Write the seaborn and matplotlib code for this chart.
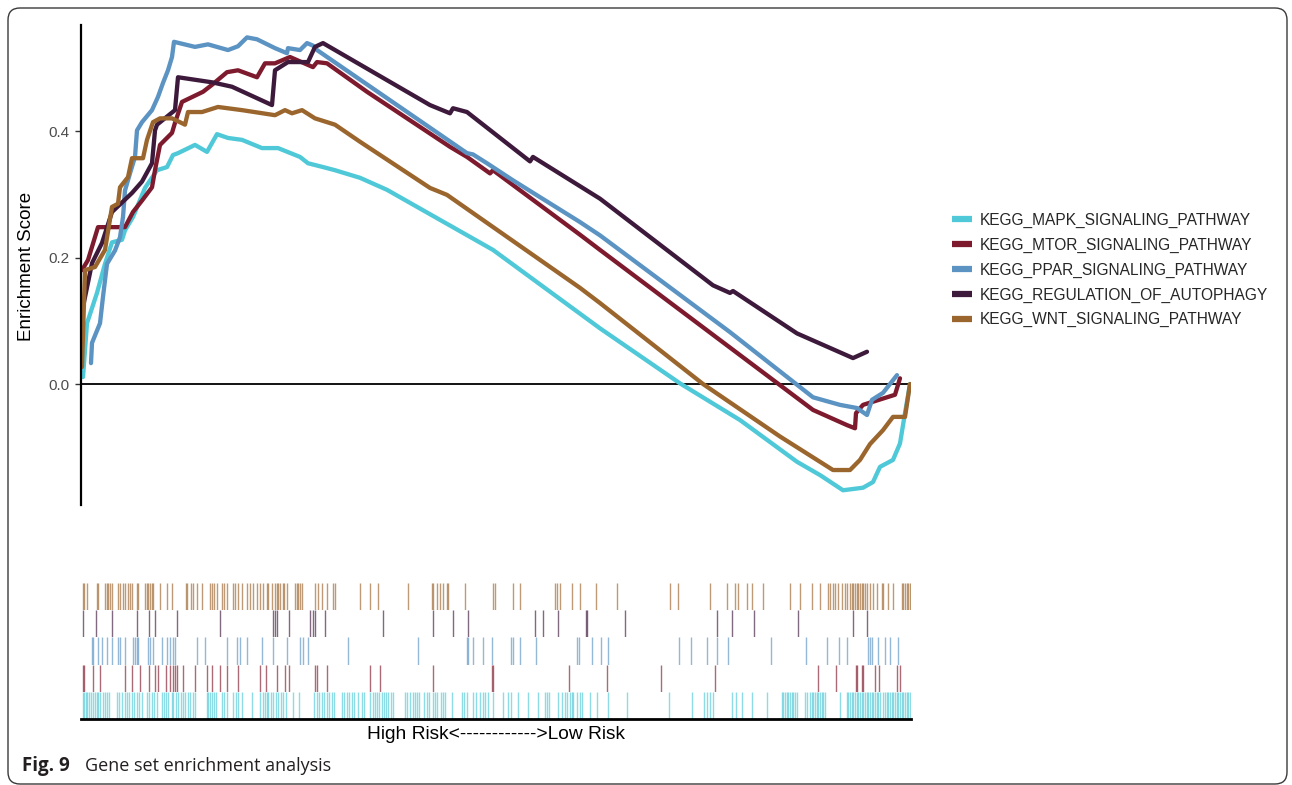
import numpy as np
import pandas as pd
import matplotlib
matplotlib.use("Agg")
import matplotlib.pyplot as plt
from matplotlib.patches import FancyBboxPatch
from matplotlib.lines import Line2D
import seaborn as sns

# ---------------- data ----------------
pathways = ["KEGG_MAPK_SIGNALING_PATHWAY", "KEGG_MTOR_SIGNALING_PATHWAY",
            "KEGG_PPAR_SIGNALING_PATHWAY", "KEGG_REGULATION_OF_AUTOPHAGY",
            "KEGG_WNT_SIGNALING_PATHWAY"]
colors = ["#4FC9D8", "#7E1A2D", "#5B93C3", "#3D1A3C", "#9B662D"]

mapk_rank = [2, 6, 16, 24, 31, 41, 44, 52, 64, 76, 86, 92, 97, 114, 126, 136, 147, 161, 181, 197,
             219, 227, 242, 254, 279, 306, 412, 519, 599, 659, 716, 739, 762, 782, 792, 799, 812, 819, 824, 829]
mapk_es = [0.011, 0.096, 0.144, 0.19, 0.224, 0.228, 0.243, 0.264, 0.31, 0.338,
           0.343, 0.362, 0.365, 0.378, 0.367, 0.395, 0.389, 0.386, 0.373, 0.373,
           0.359, 0.349, 0.343, 0.338, 0.326, 0.307, 0.212, 0.088, 0.001, -0.057,
           -0.123, -0.144, -0.168, -0.164, -0.155, -0.131, -0.120, -0.094, -0.046, 0.0]

mtor_rank = [1, 7, 17, 44, 52, 61, 71, 74, 79, 91, 94, 101, 122, 131, 146, 157, 176, 184, 194, 209,
             232, 236, 246, 286, 369, 386, 409, 412, 499, 519, 732, 766, 774, 775, 782, 792, 814, 819]
mtor_es = [0.18, 0.196, 0.248, 0.248, 0.272, 0.29, 0.311, 0.338, 0.378, 0.397,
           0.413, 0.446, 0.462, 0.473, 0.493, 0.496, 0.485, 0.507, 0.507, 0.517,
           0.501, 0.509, 0.507, 0.462, 0.375, 0.359, 0.333, 0.338, 0.236, 0.212,
           -0.041, -0.065, -0.070, -0.046, -0.033, -0.028, -0.017, 0.009]

ppar_rank = [10, 11, 19, 22, 26, 34, 39, 42, 44, 49, 54, 56, 61, 71, 77, 82, 87, 91, 93, 114,
             127, 147, 157, 166, 176, 194, 206, 207, 219, 226, 232, 236, 386, 392, 406, 432, 499, 519,
             649, 732, 759, 776, 786, 791, 802, 816]
ppar_es = [0.033, 0.065, 0.096, 0.138, 0.19, 0.211, 0.232, 0.264, 0.306, 0.333,
           0.359, 0.401, 0.414, 0.433, 0.454, 0.476, 0.496, 0.517, 0.541, 0.533,
           0.537, 0.528, 0.534, 0.548, 0.545, 0.531, 0.523, 0.531, 0.528, 0.539,
           0.535, 0.528, 0.365, 0.363, 0.349, 0.322, 0.256, 0.235, 0.082, -0.021,
           -0.033, -0.038, -0.049, -0.025, -0.014, 0.014]

auto_rank = [2, 11, 21, 31, 51, 61, 71, 74, 76, 94, 97, 131, 151, 191, 194, 207, 227, 234, 242, 349,
             369, 372, 386, 449, 452, 519, 632, 649, 652, 716, 772, 786]
auto_es = [0.122, 0.191, 0.223, 0.272, 0.302, 0.32, 0.349, 0.401, 0.41, 0.433,
           0.485, 0.477, 0.47, 0.441, 0.496, 0.509, 0.509, 0.533, 0.539, 0.441,
           0.428, 0.436, 0.43, 0.352, 0.359, 0.293, 0.156, 0.144, 0.147, 0.08,
           0.041, 0.051]

wnt_rank = [1, 4, 14, 24, 31, 37, 39, 47, 51, 62, 66, 72, 79, 91, 104, 107, 121, 137, 161, 194,
            204, 211, 221, 234, 254, 279, 349, 366, 499, 519, 622, 699, 752, 769, 779, 789, 802, 812, 824, 829]
wnt_es = [0.027, 0.18, 0.185, 0.212, 0.28, 0.285, 0.311, 0.327, 0.357, 0.357,
          0.386, 0.414, 0.42, 0.42, 0.41, 0.43, 0.43, 0.438, 0.433, 0.425,
          0.433, 0.428, 0.433, 0.42, 0.41, 0.383, 0.31, 0.299, 0.152, 0.128,
          0.0, -0.083, -0.136, -0.136, -0.12, -0.095, -0.073, -0.052, -0.052, 0.0]

# gene-set member positions in the ranked list (rug rows)
mapk_hits = [2, 3, 5, 6, 8, 10, 12, 14, 16, 17, 19, 22, 24, 26, 28, 36, 38, 41, 44, 46, 48, 51, 53, 56, 58, 61,
             66, 68, 71, 73, 76, 81, 83, 85, 87, 91, 92, 95, 97, 100, 102, 104, 107, 109, 112, 114, 126, 127,
             129, 131, 133, 135, 141, 143, 146, 152, 155, 157, 161, 171, 179, 182, 184, 186, 187, 190, 192,
             195, 197, 200, 202, 205, 212, 218, 233, 236, 238, 241, 243, 246, 248, 251, 253, 261, 263, 266,
             268, 271, 273, 277, 281, 283, 289, 292, 294, 296, 298, 301, 303, 305, 307, 310, 312, 324, 326,
             329, 332, 334, 336, 338, 343, 346, 348, 352, 354, 356, 360, 362, 364, 371, 381, 383, 386, 392,
             395, 399, 402, 404, 407, 412, 422, 427, 430, 437, 447, 457, 464, 466, 468, 477, 481, 484, 486,
             489, 491, 492, 496, 499, 501, 509, 516, 527, 546, 588, 611, 623, 626, 629, 632, 651, 655, 661,
             671, 686, 701, 702, 704, 706, 707, 709, 711, 712, 714, 716, 724, 726, 729, 731, 732, 734, 736,
             737, 739, 741, 742, 744, 759, 766, 767, 769, 771, 772, 774, 776, 777, 779, 781, 782, 784, 786,
             787, 789, 791, 792, 794, 796, 797, 799, 802, 804, 806, 807, 809, 811, 812, 814, 816, 817, 819,
             821, 822, 824, 826, 827, 829]
mtor_hits = [2, 3, 12, 19, 44, 51, 59, 68, 74, 77, 85, 89, 92, 94, 96, 102, 114, 126, 131, 139, 146, 157,
             179, 185, 196, 204, 208, 234, 236, 246, 289, 299, 352, 411, 412, 488, 526, 580, 634, 737, 755,
             775, 776, 781, 782, 794, 798, 816, 819]
ppar_hits = [11, 12, 17, 21, 26, 31, 37, 39, 44, 52, 54, 56, 57, 67, 69, 72, 81, 86, 89, 92, 94, 116, 124,
             146, 156, 159, 166, 181, 192, 206, 219, 222, 227, 267, 337, 386, 387, 392, 402, 411, 430, 432,
             439, 455, 496, 498, 511, 520, 527, 598, 610, 626, 636, 647, 690, 725, 746, 758, 766, 787, 789,
             791, 797, 804, 809, 817]
auto_hits = [2, 15, 31, 56, 68, 74, 96, 139, 192, 194, 196, 208, 229, 232, 234, 244, 302, 352, 372, 387,
             454, 462, 477, 505, 506, 544, 636, 651, 673, 717, 772, 786]
wnt_hits = [2, 3, 6, 16, 17, 24, 26, 27, 29, 31, 37, 39, 42, 44, 47, 49, 51, 56, 57, 64, 66, 67, 69, 71, 72,
            79, 86, 91, 105, 106, 110, 112, 116, 121, 129, 131, 133, 136, 141, 143, 146, 152, 154, 157, 161,
            166, 169, 172, 176, 179, 182, 186, 187, 191, 194, 196, 197, 199, 202, 203, 206, 214, 216, 217,
            219, 221, 234, 237, 241, 246, 252, 254, 279, 289, 297, 327, 351, 352, 356, 359, 362, 366, 367,
            384, 412, 414, 432, 439, 474, 476, 479, 491, 499, 515, 536, 589, 597, 629, 646, 654, 657, 666,
            671, 682, 709, 719, 731, 739, 747, 749, 752, 754, 757, 761, 764, 766, 769, 771, 772, 774, 776,
            777, 779, 781, 782, 784, 786, 789, 792, 796, 801, 802, 807, 812, 821, 822, 824, 826, 827, 829, 830]

y_ticks = [0.0, 0.2, 0.4]
n_ranks = 830

# ---------------- build tables ----------------
ranks = [mapk_rank, mtor_rank, ppar_rank, auto_rank, wnt_rank]
scores = [mapk_es, mtor_es, ppar_es, auto_es, wnt_es]
hits = [mapk_hits, mtor_hits, ppar_hits, auto_hits, wnt_hits]
curves = pd.concat([pd.DataFrame({"rank": r, "es": s, "pathway": p})
                    for r, s, p in zip(ranks, scores, pathways)], ignore_index=True)
palette = dict(zip(pathways, colors))

# ---------------- figure ----------------
sns.set_theme(style="white")
plt.rcParams["font.family"] = ["Liberation Sans", "DejaVu Sans"]

W, H = 1292, 785
fig = plt.figure(figsize=(W / 100, H / 100), dpi=100)
fig.patch.set_facecolor("white")

def fbox(x0, y0, x1, y1):
    return [x0 / W, 1 - y1 / H, (x1 - x0) / W, (y1 - y0) / H]

ax = fig.add_axes(fbox(81, 25, 911, 505))
sns.lineplot(data=curves, x="rank", y="es", hue="pathway", palette=palette,
             estimator=None, sort=False, linewidth=3.1, ax=ax, legend=True)
ax.axhline(0, color="black", lw=1.3, zorder=0)
ax.set_xlim(0, n_ranks)
ax.set_ylim(-0.1913, 0.5676)
ax.set_yticks(y_ticks)
ax.set_yticklabels([f"{t:.1f}" for t in y_ticks])
ax.tick_params(axis="y", left=True, length=4, width=1, color="#333333",
               labelsize=11, labelcolor="#4D4D4D", pad=4)
ax.set_xticks([])
ax.set_xlabel("")
ax.set_ylabel("Enrichment Score", fontsize=13.5, color="black")
ax.yaxis.set_label_coords(-0.055, 0.497)
for s in ["top", "right", "bottom"]:
    ax.spines[s].set_visible(False)
ax.spines["left"].set_color("black")
ax.spines["left"].set_linewidth(1.6)

ax.get_legend().remove()
leg_handles = [Line2D([0], [0], color=palette[p], lw=4.5, solid_capstyle="butt") for p in pathways]
fig.legend(leg_handles, pathways, loc="center left",
           bbox_to_anchor=(944 / W, 1 - 270 / H), frameon=False, fontsize=11.2,
           handlelength=1.3, handletextpad=0.5, labelspacing=0.63, borderpad=0)

# ---------------- rug rows ----------------
row_top, row_bot = 583, 719
row_h = (row_bot - row_top) / 5
order = [4, 3, 2, 1, 0]  # WNT on top ... MAPK at bottom
rug_axes = []
for i, k in enumerate(order):
    y0 = row_top + i * row_h
    rax = fig.add_axes(fbox(81, y0, 911, y0 + row_h))
    sns.rugplot(x=hits[k], height=1, color=colors[k], alpha=0.65, lw=1.2,
                expand_margins=False, ax=rax)
    rax.set_xlim(0, n_ranks)
    rax.set_ylim(0, 1)
    rax.set_xticks([])
    rax.set_yticks([])
    for s in ["top", "right", "left", "bottom"]:
        rax.spines[s].set_visible(False)
    rax.set_facecolor("none")
    rug_axes.append(rax)

bot = rug_axes[-1]
bot.spines["bottom"].set_visible(True)
bot.spines["bottom"].set_color("black")
bot.spines["bottom"].set_linewidth(2)
bot.set_xlabel("High Risk<------------>Low Risk", fontsize=13.8, color="black", labelpad=5)

# ---------------- caption and frame ----------------
fig.text(22 / W, 1 - 766 / H, "Fig. 9", fontsize=13.5, fontweight="bold",
         family=["Open Sans", "DejaVu Sans"], color="#231F20", va="center", ha="left")
fig.text(85 / W, 1 - 766 / H, "Gene set enrichment analysis", fontsize=13,
         family=["Open Sans", "DejaVu Sans"], color="#231F20", va="center", ha="left")

frame = FancyBboxPatch((0.08, 0.01), 12.79, 7.76,
                       boxstyle="round,pad=0,rounding_size=0.12",
                       transform=fig.dpi_scale_trans, fill=False,
                       edgecolor="#3A3A3A", lw=1.0)
fig.add_artist(frame)

fig.savefig("out.png", dpi=100, facecolor="white")
